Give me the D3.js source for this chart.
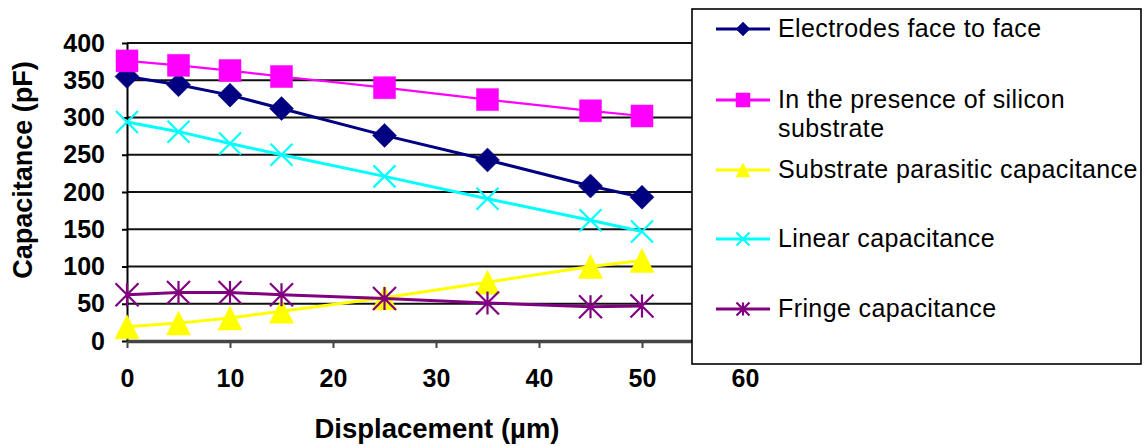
<!DOCTYPE html>
<html><head><meta charset="utf-8">
<script src="https://cdn.jsdelivr.net/npm/d3@7/dist/d3.min.js"></script>
<style>body{margin:0;background:#fff}svg{display:block}</style>
</head><body>
<svg id="chart" width="1144" height="446"></svg>
<script>
// ---- data ----
const displacement = [0, 5, 10, 15, 25, 35, 45, 50];
const electrodesFaceToFace = [355, 344, 330, 312, 276, 243, 208, 193];
const siliconSubstrate = [376, 370, 363, 355, 340, 324, 309, 302];
const substrateParasitic = [19, 24, 31, 40, 58, 79, 100, 108];
const linearCapacitance = [294, 281, 265, 250, 221, 191, 162, 147];
const fringeCapacitance = [62, 65, 65, 62, 57, 51, 46, 47];
const seriesNames = [
  ["Electrodes face to face"],
  ["In the presence of silicon", "substrate"],
  ["Substrate parasitic capacitance"],
  ["Linear capacitance"],
  ["Fringe capacitance"]
];
const yTickValues = [0, 50, 100, 150, 200, 250, 300, 350, 400];
const xTickValues = [0, 10, 20, 30, 40, 50, 60];
const xTitle = "Displacement (\u00b5m)";
const yTitle = "Capacitance (pF)";

// ---- styles ----
const styles = [
  {color: "#000080", width: 3, marker: "diamond"},
  {color: "#ff00ff", width: 2.2, marker: "square"},
  {color: "#ffff00", width: 3, marker: "triangle"},
  {color: "#00ffff", width: 3, marker: "x"},
  {color: "#800080", width: 3, marker: "star"}
];
const allSeries = [electrodesFaceToFace, siliconSubstrate, substrateParasitic, linearCapacitance, fringeCapacitance];

const svg = d3.select("#chart");
svg.append("rect").attr("width", 1144).attr("height", 446).attr("fill", "#fff");

const x = d3.scaleLinear().domain([0, 60]).range([127, 745]);
const y = d3.scaleLinear().domain([0, 400]).range([341, 43]);

// gridlines
svg.append("g").selectAll("line").data(yTickValues.filter(d => d > 0)).join("line")
  .attr("x1", x(0)).attr("x2", x(60))
  .attr("y1", d => y(d)).attr("y2", d => y(d))
  .attr("stroke", "#111").attr("stroke-width", 2);

const tickFont = "Liberation Sans, Arial, sans-serif";

// y axis
const yAxis = svg.append("g").attr("transform", `translate(${x(0)},0)`)
  .call(d3.axisLeft(y).tickValues(yTickValues).tickSize(5).tickPadding(17).tickSizeOuter(0));
yAxis.select(".domain").attr("stroke", "#000").attr("stroke-width", 2);
yAxis.selectAll(".tick line").attr("stroke", "#000").attr("stroke-width", 2);
yAxis.selectAll("text").attr("font-family", tickFont).attr("font-weight", "bold")
  .attr("font-size", 25).attr("fill", "#000");

// x axis
const xAxis = svg.append("g").attr("transform", `translate(0,${y(0)})`)
  .call(d3.axisBottom(x).tickValues(xTickValues).tickSize(7).tickPadding(8).tickSizeOuter(0));
xAxis.select(".domain").attr("stroke", "#444").attr("stroke-width", 3.5);
xAxis.selectAll(".tick line").attr("stroke", "#444").attr("stroke-width", 2);
xAxis.selectAll("text").attr("font-family", tickFont).attr("font-weight", "bold")
  .attr("font-size", 25).attr("fill", "#000").attr("dy", null).attr("y", 46);

// titles
svg.append("text").attr("x", 437).attr("y", 438).attr("text-anchor", "middle")
  .attr("font-family", "Liberation Sans, Arial, sans-serif").attr("font-weight", "bold")
  .attr("font-size", 27.5).text(xTitle);
svg.append("text").attr("transform", "translate(32,170) rotate(-90)").attr("text-anchor", "middle")
  .attr("font-family", "Liberation Sans, Arial, sans-serif").attr("font-weight", "bold")
  .attr("font-size", 27).text(yTitle);

// marker path generator
function markerPath(type, s) {
  const h = s / 2;
  switch (type) {
    case "diamond": return `M0,${-h}L${h},0L0,${h}L${-h},0Z`;
    case "square": return `M${-h},${-h}H${h}V${h}H${-h}Z`;
    case "triangle": return `M0,${-h}L${h},${h}L${-h},${h}Z`;
    case "x": return `M${-h},${-h}L${h},${h}M${h},${-h}L${-h},${h}`;
    case "star": return `M${-h},${-h}L${h},${h}M${h},${-h}L${-h},${h}M0,${-h}V${h}`;
  }
}
function drawMarker(g, type, color, s) {
  const filled = type === "diamond" || type === "square" || type === "triangle";
  g.append("path").attr("d", markerPath(type, s))
    .attr("fill", filled ? color : "none")
    .attr("stroke", color).attr("stroke-width", filled ? 0.5 : 2.2);
}

const line = d3.line().x((d, i) => x(displacement[i])).y(d => y(d));
const markerSize = {diamond: 24, square: 22, triangle: 24, x: 22, star: 23};

allSeries.forEach((vals, si) => {
  const st = styles[si];
  const g = svg.append("g");
  g.append("path").datum(vals).attr("d", line).attr("fill", "none")
    .attr("stroke", st.color).attr("stroke-width", st.width);
  vals.forEach((v, i) => {
    const mg = g.append("g").attr("transform", `translate(${x(displacement[i])},${y(v)})`);
    drawMarker(mg, st.marker, st.color, markerSize[st.marker]);
  });
});

// legend
const lg = svg.append("g");
lg.append("rect").attr("x", 692).attr("y", 9).attr("width", 449).attr("height", 355)
  .attr("fill", "#fff").attr("stroke", "#000").attr("stroke-width", 1.6);
const legendY = [29, 100, 170, 239, 309];
const legendMarker = {diamond: 14, square: 14, triangle: 14, x: 13, star: 13};
seriesNames.forEach((lines, si) => {
  const st = styles[si];
  const cy = legendY[si];
  lg.append("line").attr("x1", 716).attr("x2", 770).attr("y1", cy).attr("y2", cy)
    .attr("stroke", st.color).attr("stroke-width", 3);
  const mg = lg.append("g").attr("transform", `translate(743,${cy})`);
  drawMarker(mg, st.marker, st.color, legendMarker[st.marker]);
  const t = lg.append("text").attr("x", 778).attr("y", cy + 8)
    .attr("font-family", "Liberation Sans, Arial, sans-serif").attr("font-size", 25)
    .attr("letter-spacing", 0.4).attr("fill", "#000");
  lines.forEach((ln, k) => {
    t.append("tspan").attr("x", 778).attr("dy", k === 0 ? 0 : 29).text(ln);
  });
});
</script>
</body></html>
